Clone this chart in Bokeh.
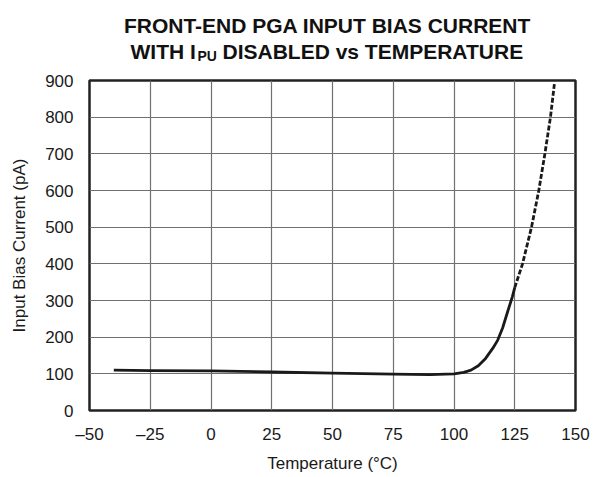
from bokeh.plotting import figure
from bokeh.layouts import column
from bokeh.models import Range1d, FixedTicker
from bokeh.core.properties import value
from bokeh.embed import file_html
from bokeh.resources import INLINE

# data
temp_measured = [-40, -25, 0, 25, 50, 75, 90, 100, 104, 107, 110, 113, 116, 118, 120, 122, 124, 125]
bias_measured = [110, 109, 108, 105, 102, 99, 98, 100, 104, 110, 122, 142, 170, 192, 225, 268, 310, 335]
temp_extrap = [125, 128.2, 131.9, 134.9, 137.4, 139.7, 141.3]
bias_extrap = [335, 400, 500, 600, 700, 800, 890]
x_ticks = [-50, -25, 0, 25, 50, 75, 100, 125, 150]
x_tick_labels = ["\u201350", "\u201325", "0", "25", "50", "75", "100", "125", "150"]
y_ticks = [0, 100, 200, 300, 400, 500, 600, 700, 800, 900]
title_line1 = "FRONT-END PGA INPUT BIAS CURRENT"
title_line2 = ["WITH I", "PU", "DISABLED vs TEMPERATURE"]

W = 598
TH = 72          # title strip height
H = 477 - TH     # main chart height
FL, FR = 89, 23
FONT = "Liberation Sans"

# ---- title strip (page pixel coordinates, y downward); frame aligned with main frame ----
pt = figure(width=W, height=TH, output_backend="svg", toolbar_location=None,
            x_range=Range1d(FL, W - FR), y_range=Range1d(TH, 0),
            x_axis_location=None, y_axis_location=None,
            min_border_left=FL, min_border_right=FR, min_border_top=0, min_border_bottom=0)
pt.grid.visible = False
pt.outline_line_color = None
pt.background_fill_color = "white"
pt.border_fill_color = "white"

common = dict(text_font=value(FONT), text_font_style="bold", text_color="#111111",
              text_baseline="alphabetic")
pt.text(x=[327], y=[25], text=[title_line1], text_align="center",
        text_font_size="21px", **common)
pt.text(x=[130, 222], y=[51, 51], text=[title_line2[0], title_line2[2]], text_align="left",
        text_font_size="21px", **common)
pt.text(x=[197], y=[55], text=[title_line2[1]], text_align="left",
        text_font_size="14px", **common)

# ---- main chart ----
FT, FB = 8, 67
p = figure(width=W, height=H, output_backend="svg", toolbar_location=None,
           x_range=Range1d(-50, 150), y_range=Range1d(0, 900),
           min_border_left=FL, min_border_right=FR, min_border_top=FT, min_border_bottom=FB)
p.background_fill_color = "white"
p.border_fill_color = "white"
p.outline_line_color = "#222222"
p.outline_line_width = 2.5

p.xaxis.ticker = FixedTicker(ticks=x_ticks)
p.xaxis.major_label_overrides = {t: l for t, l in zip(x_ticks, x_tick_labels)}
p.yaxis.ticker = FixedTicker(ticks=y_ticks)

for ax in (p.xaxis[0], p.yaxis[0]):
    ax.axis_line_color = None
    ax.major_tick_line_color = None
    ax.minor_tick_line_color = None
    ax.major_label_text_font = FONT
    ax.major_label_text_font_size = "17px"
    ax.major_label_text_color = "#1a1a1a"
    ax.axis_label_text_font = FONT
    ax.axis_label_text_font_size = "17px"
    ax.axis_label_text_font_style = "normal"
    ax.axis_label_text_color = "#1a1a1a"

p.xaxis.axis_label = "Temperature (\u00b0C)"
p.yaxis.axis_label = "Input Bias Current (pA)"
p.xaxis.major_label_standoff = 8
p.yaxis.major_label_standoff = 10
p.xaxis.axis_label_standoff = 7
p.yaxis.axis_label_standoff = 13

p.xgrid.ticker = FixedTicker(ticks=x_ticks)
p.ygrid.ticker = FixedTicker(ticks=y_ticks)
p.grid.grid_line_color = "#707070"
p.grid.grid_line_width = 1.2

p.line(temp_measured, bias_measured, line_color="#1a1a1a", line_width=2.8, line_join="round")
p.line(temp_extrap, bias_extrap, line_color="#1a1a1a", line_width=2.8, line_dash="5 2")

layout = column(pt, p, spacing=0)
open("out.html", "w").write(file_html(layout, INLINE))
